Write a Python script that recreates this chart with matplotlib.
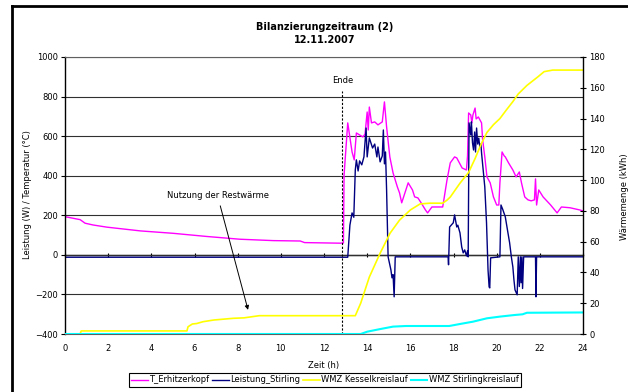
import matplotlib.pyplot as plt
from matplotlib.lines import Line2D

plt.rcParams['font.family'] = ['DejaVu Sans']

# T_Erhitzerkopf (°C) über der Zeit (h)
zeit_kopf = [0.0, 0.7, 0.93, 1.3, 1.94, 3.5, 5.0, 6.56, 8.1, 9.65, 10.9, 11.1, 12.75, 12.9,
             12.93, 13.1, 13.3, 13.4, 13.5, 13.8, 13.9, 14.0, 14.05, 14.1, 14.2, 14.35, 14.5,
             14.7, 14.8, 14.9, 15.05, 15.2, 15.4, 15.5, 15.6, 15.9, 16.1, 16.2, 16.35, 16.5,
             16.7, 16.8, 17.0, 17.5, 17.7, 17.85, 18.05, 18.15, 18.4, 18.6, 18.65, 18.7, 18.8,
             18.85, 18.9, 19.0, 19.05, 19.15, 19.3, 19.35, 19.45, 19.55, 19.7, 19.85, 20.0,
             20.1, 20.15, 20.25, 20.35, 20.4, 20.55, 20.75, 20.9, 21.05, 21.15, 21.3, 21.45,
             21.6, 21.75, 21.8, 21.85, 21.95, 22.15, 22.5, 22.8, 23.0, 23.4, 23.85, 24.0]
t_erhitzerkopf = [193, 178, 160, 151, 140, 121, 109, 93, 79, 72, 70, 62, 59, 60,
                  404, 667, 520, 480, 616, 596, 610, 722, 631, 747, 667, 672, 657,
                  672, 773, 647, 495, 414, 343, 313, 263, 364, 328, 293, 288, 263,
                  227, 212, 242, 242, 379, 465, 495, 490, 439, 429, 500, 717, 707,
                  667, 707, 742, 687, 697, 667, 581, 495, 394, 364, 293, 252,
                  252, 364, 520, 500, 495, 465, 429, 394, 419, 364, 293, 278,
                  273, 278, 384, 252, 328, 293, 252, 212, 242, 238, 227, 222]

# Leistung_Stirling (W)
zeit_stirling = [0.0, 13.1, 13.2, 13.3, 13.38, 13.45, 13.5, 13.58, 13.65, 13.75, 13.85, 13.95,
                 14.0, 14.1, 14.25, 14.35, 14.45, 14.5, 14.6, 14.7, 14.75, 14.8, 14.85, 14.9,
                 14.97, 15.1, 15.15, 15.2, 15.25, 15.3, 17.75, 17.77, 17.82, 17.99, 18.05,
                 18.15, 18.2, 18.3, 18.38, 18.45, 18.52, 18.6, 18.65, 18.68, 18.72, 18.8,
                 18.83, 18.88, 18.93, 18.98, 19.02, 19.07, 19.12, 19.17, 19.22, 19.27, 19.3,
                 19.45, 19.53, 19.6, 19.65, 19.68, 19.72, 20.15, 20.2, 20.28, 20.4, 20.5,
                 20.6, 20.68, 20.75, 20.8, 20.85, 20.95, 21.0, 21.05, 21.1, 21.13, 21.17,
                 21.2, 21.25, 21.8, 21.82, 21.85, 24.0]
leistung_stirling = [-12, -12, 150, 212, 190, 429, 480, 424, 475, 455, 495, 641,
                     495, 591, 540, 560, 495, 545, 470, 500, 631, 460, 520, 328,
                     -10, -76, -116, -100, -212, -10, -10, -50, 141, 162, 202,
                     141, 150, 111, 40, 10, 25, -5, 20, -10, 667, 606,
                     672, 566, 530, 621, 520, 641, 560, 590, 545, 560, 515,
                     343, 162, -76, -162, -167, -15, -10, 252, 230, 192, 126,
                     61, -10, -61, -126, -177, -202, -10, -160, -10, -141, -10,
                     -170, -10, -10, -212, -10, -10]

# WMZ Kesselkreislauf (kWh)
zeit_kessel = [0.0, 0.7, 0.75, 5.65, 5.7, 5.9, 6.1, 6.4, 6.9, 7.8, 8.3, 9.0, 13.45, 13.7,
               14.1, 14.6, 15.06, 15.5, 16.0, 16.45, 16.9, 17.5, 17.7, 17.85, 18.3, 18.7,
               19.0, 19.3, 19.55, 19.85, 20.15, 20.45, 20.75, 21.0, 21.4, 21.9, 22.2,
               22.6, 24.0]
wmz_kessel = [0, 0, 2, 2, 4.7, 6.5, 6.8, 8.0, 9.1, 10.2, 10.5, 11.9, 11.9, 20,
              37, 52.5, 65.5, 74, 80.6, 84.5, 85, 85, 87, 89, 98, 105,
              114, 124, 131, 136, 140, 145.6, 151, 156, 161.5, 167, 170.5,
              171.5, 171.5]

# WMZ Stirlingkreislauf (kWh)
zeit_wmz_stirling = [0.0, 13.7, 14.0, 14.6, 15.2, 15.8, 17.8, 18.3, 18.9, 19.55, 20.15,
                     20.8, 21.2, 21.4, 24.0]
wmz_stirling = [0, 0, 1.5, 3.2, 4.8, 5.2, 5.2, 6.5, 8.0, 10.2, 11.3, 12.3, 12.8, 13.8, 14]

ende_zeit = 12.85

fig = plt.figure(figsize=(6.28, 3.92), dpi=100)
ax = fig.add_axes([65 / 628, 1 - 334 / 392, 518 / 628, 277 / 392])

ax.plot(zeit_kopf, t_erhitzerkopf, color='#FF00FF', lw=1.0, label='T_Erhitzerkopf')
ax.plot(zeit_stirling, leistung_stirling, color='#000080', lw=1.0, label='Leistung_Stirling')

ax.set_xlim(0, 24)
ax.set_ylim(-400, 1000)
ax.set_xticks(range(0, 25, 2))
ax.set_yticks(range(-400, 1001, 200))
ax.yaxis.grid(True, color='#303030', lw=0.8)
ax.set_axisbelow(True)
ax.tick_params(axis='x', length=0, labelsize=6, pad=7)
ax.tick_params(axis='y', length=3, width=0.8, labelsize=6, pad=2)
for s in ['top', 'bottom']:
    ax.spines[s].set_color('#606060')
    ax.spines[s].set_linewidth(0.8)
ax.spines['left'].set_linewidth(1.0)
ax.spines['right'].set_visible(False)

# Rubrikenachse schneidet bei 0
nulllinie = ax.secondary_xaxis(400 / 1400)
nulllinie.set_xticks(range(0, 25, 2))
nulllinie.tick_params(direction='inout', length=3, width=0.8,
                      labeltop=False, labelbottom=False)
for s in nulllinie.spines.values():
    s.set_color('black')
    s.set_linewidth(1.0)

ax.set_xlabel('Zeit (h)', fontsize=6)
ax.xaxis.set_label_coords(0.5, -(361 - 334) / 277)
ax.set_ylabel('Leistung (W) / Temperatur (°C)', fontsize=6)
ax.yaxis.set_label_coords((32 - 65) / 518, (334 - 195) / 277)

# Ende-Markierung
ax.plot([ende_zeit, ende_zeit], [-400, 828], color='black', lw=0.8, ls=(0, (2, 1.5)))
ax.text(ende_zeit, 860, 'Ende', fontsize=6, ha='center', va='bottom')

ax.annotate('Nutzung der Restwärme', xy=(8.48, -278), xytext=(7.07, 298),
            fontsize=6, ha='center', va='center',
            arrowprops=dict(arrowstyle='-|>', color='black', lw=0.7,
                            mutation_scale=6, shrinkA=2, shrinkB=0))

ax2 = ax.twinx()
ax2.plot(zeit_kessel, wmz_kessel, color='#FFFF00', lw=1.2, label='WMZ Kesselkreislauf')
ax2.plot(zeit_wmz_stirling, wmz_stirling, color='#00FFFF', lw=1.5, label='WMZ Stirlingkreislauf')
ax2.set_ylim(0, 180)
ax2.set_yticks(range(0, 181, 20))
ax2.tick_params(axis='y', direction='inout', length=5, width=0.8, labelsize=6, pad=2)
ax2.spines['right'].set_linewidth(1.0)
for s in ['top', 'bottom', 'left']:
    ax2.spines[s].set_visible(False)
ax2.set_ylabel('Wärmemenge (kWh)', fontsize=6)
ax2.yaxis.set_label_coords((620 - 65) / 518, (334 - 197) / 277)

fig.text(325 / 628, 1 - 27 / 392, 'Bilanzierungzeitraum (2)', fontsize=7,
         fontweight='bold', ha='center', va='center')
fig.text(325 / 628, 1 - 40 / 392, '12.11.2007', fontsize=7,
         fontweight='bold', ha='center', va='center')

handles = ax.get_lines()[:2] + ax2.get_lines()
leg = fig.legend(handles, [h.get_label() for h in handles], loc='center',
                 bbox_to_anchor=(325 / 628, 1 - 380 / 392), ncol=4, fontsize=6,
                 frameon=True, fancybox=False, edgecolor='black', framealpha=1,
                 borderpad=0.25, handlelength=2.0, handletextpad=0.2,
                 columnspacing=0.3)
leg.get_frame().set_linewidth(0.8)

# Rahmen des Diagrammbereichs
fig.add_artist(Line2D([12 / 628, 12 / 628], [0, 1 - 6 / 392], color='black', lw=2))
fig.add_artist(Line2D([12 / 628, 1], [1 - 6 / 392, 1 - 6 / 392], color='black', lw=2))

fig.savefig('out.png', dpi=100)
